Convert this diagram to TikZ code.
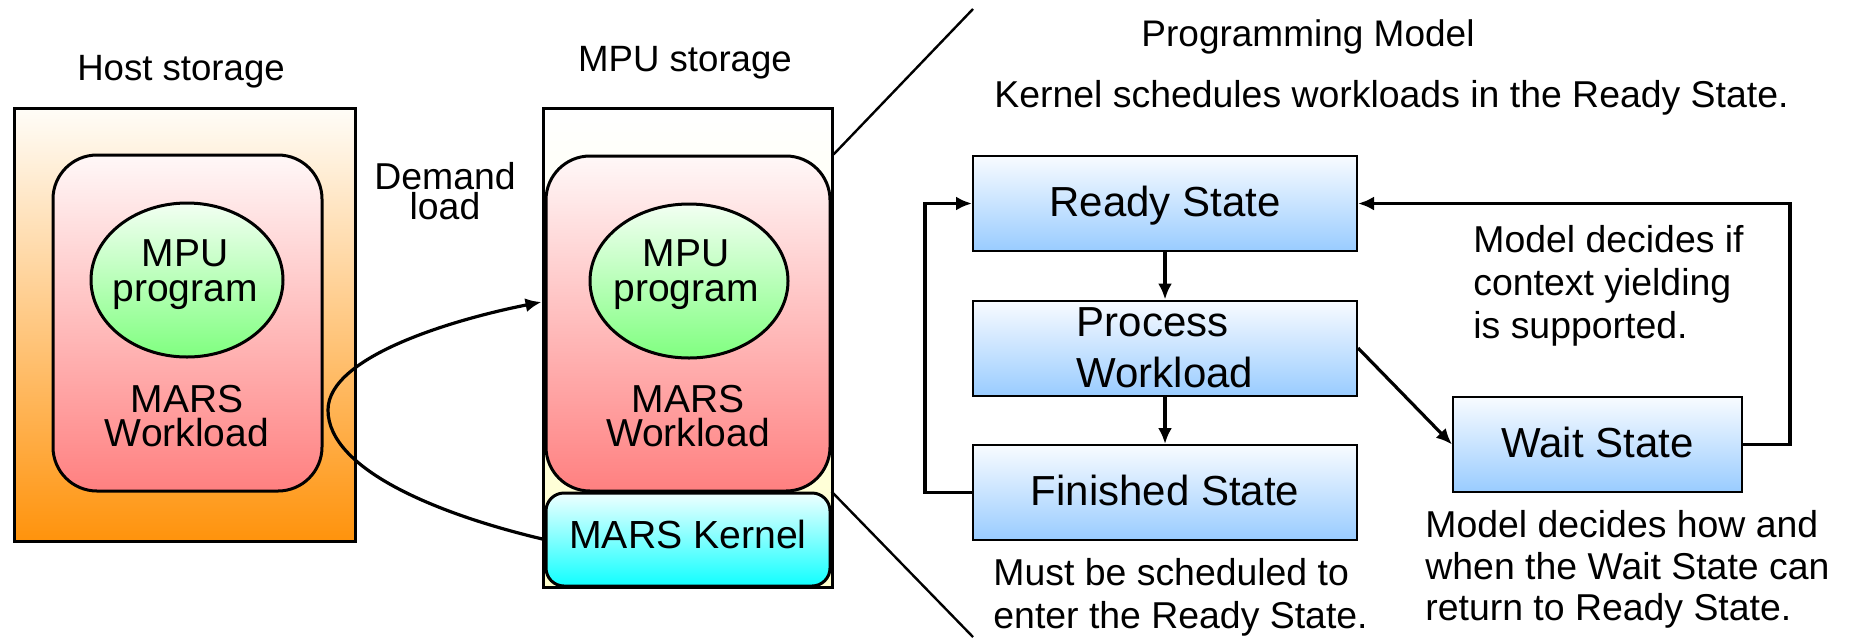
\documentclass[tikz,border=0pt]{standalone}
\usepackage{fontspec}
\setmainfont{Liberation Sans}
\usetikzlibrary{arrows.meta,shapes.geometric}
\def\fsz#1#2{\fontsize{#1}{#2}\selectfont}

\definecolor{hosttop}{HTML}{FFFDF8}
\definecolor{hostbot}{HTML}{FF930C}
\definecolor{worktop}{HTML}{FFF8F8}
\definecolor{workbot}{HTML}{FF8080}
\definecolor{progtop}{HTML}{F2FFF2}
\definecolor{progbot}{HTML}{80FF80}
\definecolor{mpubot}{HTML}{FFFFCC}
\definecolor{kerntop}{HTML}{EFFFFF}
\definecolor{kernbot}{HTML}{10FFFF}
\definecolor{statetop}{HTML}{F8FBFF}
\definecolor{statebot}{HTML}{99CCFF}

\tikzset{
	storebox/.style={draw, line width=1.5pt, inner sep=0pt},
	workbox/.style={draw, line width=1.5pt, inner sep=0pt, rounded corners=22pt, top color=worktop, bottom color=workbot},
	progblob/.style={draw, ellipse, line width=1.5pt, inner sep=0pt, top color=progtop, bottom color=progbot},
	lbl/.style={inner sep=0pt, align=center, font=\fsz{19.5}{17.5}},
	statebox/.style={draw, line width=1pt, inner sep=0pt, top color=statetop, bottom color=statebot, minimum width=192pt, minimum height=47.5pt, align=left, font=\fsz{21}{25.5}},
	oneline/.style={text height=17pt, text depth=4.5pt},
	note/.style={inner sep=0pt, align=left, font=\fsz{18.7}{21.5}},
	flow/.style={line width=1.6pt, -{Latex[length=8pt, width=7pt]}},
}

\begin{document}
\begin{tikzpicture}[x=0.5pt, y=-0.5pt]
	%%%%% START %%%%%
	\useasboundingbox (0,0) rectangle (1850,638);
	
	% host storage
	\node[inner sep=0pt, font=\fsz{18.3}{18.3}, anchor=base] (hostname) at (181,80) {Host storage};
	\node[storebox, top color=hosttop, bottom color=hostbot, minimum width=170.5pt, minimum height=216.5pt] (host) at (184.5,324.5) {};
	\node[workbox, minimum width=134.5pt, minimum height=168pt] (hostwork) at (187.5,323) {};
	\node[progblob, minimum width=96pt, minimum height=77pt] (hostprog) at (187,280) {};
	\node[lbl] (hostprogtxt) at (185,274.5) {MPU\\program};
	\node[lbl, font=\fsz{19.5}{17}] (hostworktxt) at (187,416) {MARS\\Workload};
	
	% mpu storage
	\node[inner sep=0pt, font=\fsz{18.3}{18.3}, anchor=base] (mpuname) at (685,71) {MPU storage};
	\node[storebox, top color=white, bottom color=mpubot, minimum width=144.5pt, minimum height=239.5pt] (mpu) at (687.5,347.5) {};
	\node[workbox, minimum width=142pt, minimum height=167.5pt] (mpuwork) at (688,323.5) {};
	\node[progblob, minimum width=99pt, minimum height=77pt] (mpuprog) at (689,281) {};
	\node[lbl] (mpuprogtxt) at (686,274.5) {MPU\\program};
	\node[lbl, font=\fsz{19.5}{17}] (mpuworktxt) at (688,416) {MARS\\Workload};
	\node[storebox, rounded corners=9pt, top color=kerntop, bottom color=kernbot, minimum width=142pt, minimum height=46.5pt] (kernel) at (688,539.5) {};
	\node[lbl, font=\fsz{19.6}{19.6}] (kerneltxt) at (688,534) {MARS Kernel};
	
	% demand load
	\node[lbl, font=\fsz{18.7}{15}] (demand) at (445,191.5) {Demand\\load};
	\draw[flow] (kernel.west) .. controls (440,515) and (328,470) .. (328,410) .. controls (328,355) and (460,318) .. (mpu.west |- 0,302);
	
	% zoom lines
	\coordinate (zoomtop) at (973,9);
	\coordinate (zoombot) at (973,637);
	\draw[line width=1.2pt] (mpu.east |- mpuwork.north) -- (zoomtop);
	\draw[line width=1.2pt] (kernel.north east) -- (zoombot);
	
	% programming model
	\node[inner sep=0pt, font=\fsz{18.5}{18.5}, anchor=base] (modelname) at (1308,46) {Programming Model};
	\node[note, anchor=base west] (kernnote) at (994,107) {Kernel schedules workloads in the Ready State.};
	
	\node[statebox, oneline] (ready) at (1165,203.5) {Ready State};
	\node[statebox] (process) at (1165,348) {Process\\Workload};
	\node[statebox, oneline] (finished) at (1165,492.5) {Finished State};
	\node[statebox, oneline, minimum width=144.5pt] (wait) at (1597.5,444.5) {Wait State};
	
	\node[note, anchor=west] (yieldnote) at (1473,285.5) {Model decides if\\context yielding\\is supported.};
	\node[note, anchor=west] (schednote) at (993,597) {Must be scheduled to\\enter the Ready State.};
	\node[note, anchor=west, font=\fsz{18.7}{20.75}] (waitnote) at (1425,569.5) {Model decides how and\\when the Wait State can\\return to Ready State.};
	
	\draw[flow] (ready) -- (process);
	\draw[flow] (process) -- (finished);
	\draw[flow] (process.east) -- (wait.west);
	\draw[flow] (finished.west) -- ++(-47,0) |- (ready.west);
	\draw[flow] (wait.east) -- ++(47,0) |- (ready.east);
	
	%%%%% END %%%%%
\end{tikzpicture}
\end{document}
